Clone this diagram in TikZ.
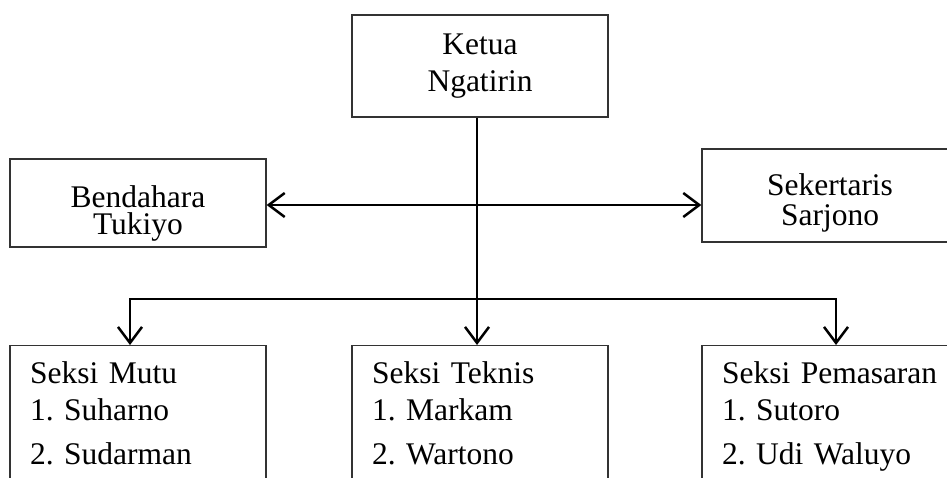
\documentclass[tikz,border=0pt]{standalone}
\usepackage{fontspec}
\setmainfont{Liberation Serif}
\usetikzlibrary{arrows.meta}
\frenchspacing

\begin{document}
\begin{tikzpicture}
    [x = 1pt, y = -1pt, >={Straight Barb[length = 16pt, width = 24pt]},
     box/.style = {draw = black!80, line width = 1.3pt, rectangle, inner xsep = 20pt, inner ysep = 0pt,
                   text width = 216pt, font = \fontsize{31.5}{37}\selectfont},
     topbox/.style = {box, align = center},
     seksi/.style = {box, align = left, anchor = north, minimum height = 142.5pt, text depth = 88pt},
     link/.style = {line width = 2.5pt}]
    \useasboundingbox (0,0) rectangle (947,477);
    \clip (0,0) rectangle (947,477);
    \node[topbox, minimum height = 102pt] (ketua) at (480,66) {Ketua\\Ngatirin};
    \node[topbox, minimum height = 88pt, text height = 41.8pt] (bendahara) at (138,203) {Bendahara\\[-10pt]Tukiyo};
    \node[topbox, minimum height = 93pt, text height = 35.8pt] (sekertaris) at (830,195.5) {Sekertaris\\[-7pt]Sarjono};
    \node[seksi] (mutu) at (138,345) {Seksi Mutu\\1. Suharno\\[7pt]2. Sudarman};
    \node[seksi] (teknis) at (480,345) {Seksi Teknis\\1. Markam\\[7pt]2. Wartono};
    \node[seksi] (pemasaran) at (830,345) {Seksi Pemasaran\\1. Sutoro\\[7pt]2. Udi Waluyo};
    \coordinate (cross) at (477,205);
    \coordinate (bus) at (477,299);
    \coordinate (busleft) at (130,299);
    \coordinate (busright) at (836,299);
    \draw[link, ->] (ketua.south -| bus) -- (teknis.north -| bus);
    \draw[link, <->] (bendahara.east |- cross) -- (sekertaris.west |- cross);
    \foreach \from/ \to in {busleft/mutu, busright/pemasaran}
      \draw[link, ->] (bus) -- (\from) -- (\to.north -| \from);
  \end{tikzpicture}
\end{document}
